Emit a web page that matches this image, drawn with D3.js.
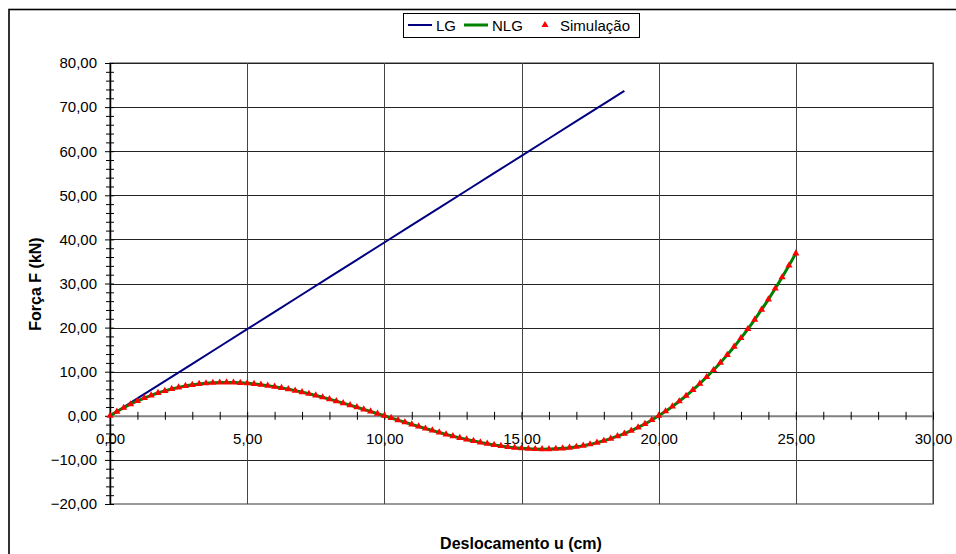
<!DOCTYPE html>
<html>
<head>
<meta charset="utf-8">
<script src="https://cdn.jsdelivr.net/npm/d3@7"></script>
<style>
  body { margin: 0; background: #fff; }
  text { font-family: "Liberation Sans", Arial, sans-serif; }
</style>
</head>
<body>
<svg id="chart" width="956" height="554"></svg>
<script>
// deslocamento u (cm) for NLG / simulacao
var uNLG = [0,0.25,0.5,0.75,1,1.25,1.5,1.75,2,2.25,2.5,2.75,3,3.25,3.5,3.75,4,4.25,4.5,4.75,
  5,5.25,5.5,5.75,6,6.25,6.5,6.75,7,7.25,7.5,7.75,8,8.25,8.5,8.75,9,9.25,9.5,9.75,
  10,10.25,10.5,10.75,11,11.25,11.5,11.75,12,12.25,12.5,12.75,13,13.25,13.5,13.75,14,14.25,14.5,14.75,
  15,15.25,15.5,15.75,16,16.25,16.5,16.75,17,17.25,17.5,17.75,18,18.25,18.5,18.75,19,19.25,19.5,19.75,
  20,20.25,20.5,20.75,21,21.25,21.5,21.75,22,22.25,22.5,22.75,23,23.25,23.5,23.75,24,24.25,24.5,24.75,25]
// forca F (kN), NLG
var fNLG = [0,0.95,1.82,2.62,3.36,4.03,4.63,5.18,5.66,6.08,6.45,6.76,7.02,7.22,7.38,7.48,7.55,7.56,7.54,7.47,
  7.37,7.23,7.05,6.84,6.60,6.33,6.04,5.71,5.36,5.00,4.61,4.20,3.77,3.33,2.88,2.42,1.95,1.47,0.98,0.49,
  0,-0.49,-0.98,-1.47,-1.95,-2.42,-2.88,-3.33,-3.77,-4.20,-4.61,-5.00,-5.36,-5.71,-6.04,-6.33,-6.60,-6.84,-7.05,-7.23,
  -7.37,-7.47,-7.54,-7.56,-7.55,-7.48,-7.38,-7.22,-7.02,-6.76,-6.45,-6.08,-5.66,-5.18,-4.63,-4.03,-3.36,-2.62,-1.82,-0.95,
  0,1.02,2.12,3.29,4.54,5.87,7.29,8.79,10.38,12.05,13.82,15.67,17.63,19.67,21.82,24.06,26.41,28.86,31.41,34.07,36.84]
// simulacao sits on the NLG points
var uSim = uNLG
var fSim = fNLG
// LG
var uLG = [0,1,2,3,4,5,6,7,8,9,10,11,12,13,14,15,16,17,18,18.75]
var fLG = [0,3.93,7.86,11.79,15.72,19.65,23.58,27.51,31.44,35.37,39.30,43.23,47.16,51.09,55.02,58.95,62.88,66.81,70.74,73.69]

var xTicks = [0,5,10,15,20,25,30]
var yTicks = [-20,-10,0,10,20,30,40,50,60,70,80]

var svg = d3.select("#chart")
var fmt = function(d){ return d3.format(".2f")(d).replace(".", ",") }

var x = d3.scaleLinear().domain([0, 30]).range([110, 933])
var y = d3.scaleLinear().domain([-20, 80]).range([504, 63])

// outer chart frame (only top/left show)
svg.append("rect").attr("x", 9).attr("y", 9.5).attr("width", 1000).attr("height", 600)
  .attr("fill", "#fff").attr("stroke", "#000").attr("stroke-width", 1.6)

// plot area
svg.append("rect").attr("x", x(0)).attr("y", y(80)).attr("width", x(30) - x(0)).attr("height", y(-20) - y(80))
  .attr("fill", "#fff").attr("stroke", "#808080").attr("stroke-width", 1.6)

// gridlines
svg.append("g").selectAll("line").data(yTicks.filter(function(d){ return d != -20 })).enter().append("line")
  .attr("x1", x(0)).attr("x2", x(30))
  .attr("y1", function(d){ return Math.round(y(d)) + 0.5 }).attr("y2", function(d){ return Math.round(y(d)) + 0.5 })
  .attr("stroke", "#222").attr("stroke-width", 1)
svg.append("g").selectAll("line").data(xTicks.filter(function(d){ return d != 0 })).enter().append("line")
  .attr("y1", y(80)).attr("y2", y(-20))
  .attr("x1", function(d){ return Math.round(x(d)) + 0.5 }).attr("x2", function(d){ return Math.round(x(d)) + 0.5 })
  .attr("stroke", "#444").attr("stroke-width", 1)

// y axis, minor ticks every 2
var yAxis = d3.axisLeft(y).tickValues(d3.range(-20, 81, 2))
  .tickFormat(function(d){ return d % 10 == 0 ? fmt(d) : "" }).tickSizeOuter(0)
var gy = svg.append("g").attr("transform", "translate(" + x(0) + ",0)").call(yAxis)
gy.select(".domain").attr("stroke", "#000").attr("stroke-width", 1.5)
gy.selectAll(".tick line").attr("x1", function(d){ return d % 10 == 0 ? -5 : -4 }).attr("x2", 4)
  .attr("stroke", "#000")
gy.selectAll(".tick text").attr("x", -13).attr("font-size", 15).attr("fill", "#000")

// x axis at F = 0, minor ticks every 1
var xAxis = d3.axisBottom(x).tickValues(d3.range(0, 31, 1))
  .tickFormat(function(d){ return d % 5 == 0 ? fmt(d) : "" }).tickSizeOuter(0)
var gx = svg.append("g").attr("transform", "translate(0," + y(0) + ")").call(xAxis)
gx.select(".domain").attr("stroke", "#808080").attr("stroke-width", 2)
gx.selectAll(".tick line").attr("y1", -4).attr("y2", 4).attr("stroke", "#000")
gx.selectAll(".tick text").attr("y", 18).attr("font-size", 15).attr("fill", "#000")

// series
var line = d3.line().x(function(d){ return x(d[0]) }).y(function(d){ return y(d[1]) })
svg.append("path").datum(d3.zip(uLG, fLG)).attr("d", line)
  .attr("fill", "none").attr("stroke", "#000080").attr("stroke-width", 2)
svg.append("path").datum(d3.zip(uNLG, fNLG)).attr("d", line.curve(d3.curveMonotoneX))
  .attr("fill", "none").attr("stroke", "#008000").attr("stroke-width", 3)
var tri = d3.symbol().type(d3.symbolTriangle).size(22)
svg.append("g").selectAll("path").data(d3.zip(uSim, fSim)).enter().append("path")
  .attr("d", tri).attr("fill", "#ff0000")
  .attr("transform", function(d){ return "translate(" + x(d[0]) + "," + y(d[1]) + ")" })

// axis titles
svg.append("text").attr("x", 521).attr("y", 549).attr("text-anchor", "middle")
  .attr("font-size", 16).attr("font-weight", "bold").text("Deslocamento u (cm)")
svg.append("text").attr("transform", "translate(41,284) rotate(-90)").attr("text-anchor", "middle")
  .attr("font-size", 16).attr("font-weight", "bold").text("Força F (kN)")

// legend
var lg = svg.append("g")
lg.append("rect").attr("x", 403.5).attr("y", 13.5).attr("width", 236).attr("height", 24)
  .attr("fill", "#fff").attr("stroke", "#000").attr("stroke-width", 1)
lg.append("line").attr("x1", 408).attr("x2", 432).attr("y1", 25).attr("y2", 25).attr("stroke", "#000080").attr("stroke-width", 2)
lg.append("text").attr("x", 436).attr("y", 31).attr("font-size", 15).text("LG")
lg.append("line").attr("x1", 464).attr("x2", 488).attr("y1", 25).attr("y2", 25).attr("stroke", "#008000").attr("stroke-width", 3)
lg.append("text").attr("x", 492).attr("y", 31).attr("font-size", 15).text("NLG")
lg.append("path").attr("d", tri).attr("fill", "#ff0000").attr("transform", "translate(545,25)")
lg.append("text").attr("x", 560).attr("y", 31).attr("font-size", 15).text("Simulação")
</script>
</body>
</html>
